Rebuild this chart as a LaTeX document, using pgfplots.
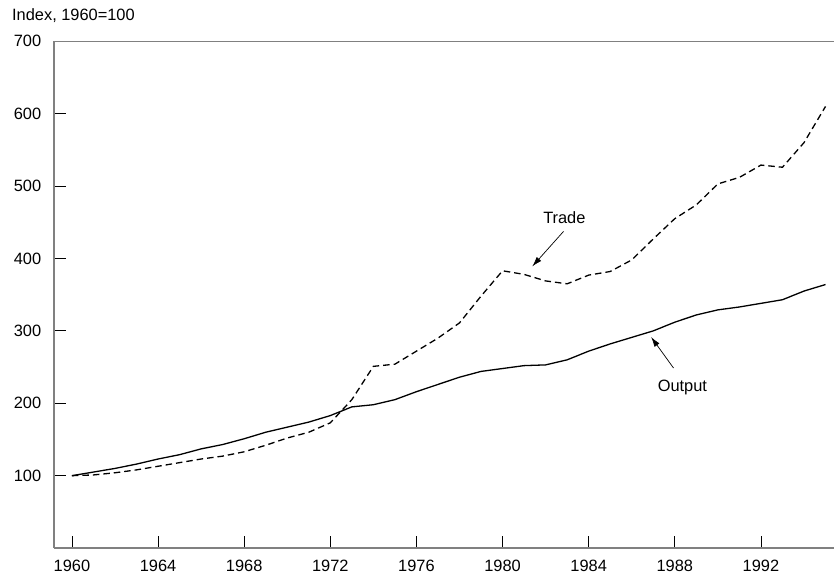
\documentclass[border=0pt]{standalone}
\usepackage{fontspec}
\setmainfont{Liberation Sans}
\usepackage{pgfplots}
\pgfplotsset{compat=1.18}
\usetikzlibrary{arrows.meta}
\definecolor{axgray}{HTML}{808080}
\begin{document}
\begin{tikzpicture}[font=\fontsize{16.4bp}{19bp}\selectfont]
\path (-54bp,-27.5bp) rectangle (781bp,548.5bp);
\begin{axis}[
  scale only axis, width=781bp, height=507.2bp,
  at={(0,0)}, anchor=south west,
  xmin=1959.165, xmax=1995.41, ymin=0, ymax=700,
  axis x line=bottom, axis y line=left,
  axis line style={-, draw=axgray, line width=1.3bp},
  tick align=inside, major tick length=12bp,
  tick style={black, line width=0.8bp},
  xtick={1960,1964,...,1992}, ytick={100,200,...,700},
  /pgf/number format/assume math mode=true,
  /pgf/number format/1000 sep={},
  xticklabel style={yshift=-8.6bp},
  yticklabel style={xshift=-9.3bp},
  clip=false,
]
\addplot[black, line width=1.3bp] coordinates {
(1960,100) (1961,105) (1962,110) (1963,116) (1964,123) (1965,129) (1966,137)
(1967,143) (1968,151) (1969,160) (1970,167) (1971,174) (1972,183) (1973,195)
(1974,198) (1975,205) (1976,216) (1977,226) (1978,236) (1979,244) (1980,248)
(1981,252) (1982,253) (1983,260) (1984,272) (1985,282) (1986,291) (1987,300)
(1988,312) (1989,322) (1990,329) (1991,333) (1992,338) (1993,343) (1994,355)
(1995,364)};
\addplot[black, line width=1.3bp, dash pattern=on 6.5bp off 4bp] coordinates {
(1960,100) (1961,101) (1962,104) (1963,108) (1964,113) (1965,118) (1966,123)
(1967,127) (1968,133) (1969,142) (1970,152) (1971,160) (1972,173) (1973,205)
(1974,251) (1975,254) (1976,272) (1977,290) (1978,311) (1979,348) (1980,383)
(1981,378) (1982,369) (1983,365) (1984,377) (1985,382) (1986,398) (1987,427)
(1988,455) (1989,474) (1990,503) (1991,512) (1992,529) (1993,526) (1994,560)
(1995,610)};
\draw[axgray, line width=1.3bp] (rel axis cs:0,1) -- (rel axis cs:1,1);
\node at (axis cs:1982.87,456.6) {Trade};
\draw[black, line width=0.7bp, -{Latex[length=10bp,width=6bp]}] (axis cs:1982.83,437.3) -- (axis cs:1981.38,389);
\node at (axis cs:1988.35,221.5) {Output};
\draw[black, line width=0.7bp, -{Latex[length=10bp,width=6bp]}] (axis cs:1987.94,248.7) -- (axis cs:1986.9,291.5);
\end{axis}
\node[anchor=base west, inner sep=0pt] at (-42bp,527.5bp) {Index, 1960=100};
\end{tikzpicture}
\end{document}
